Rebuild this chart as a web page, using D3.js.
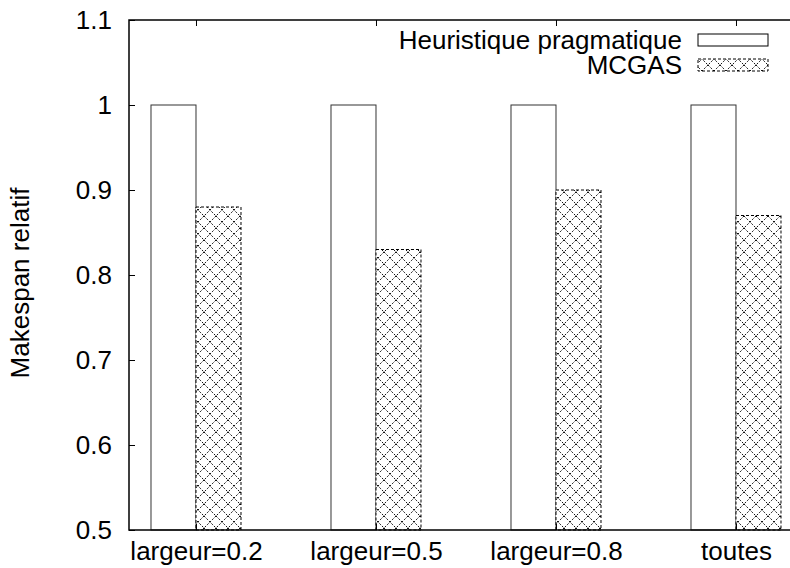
<!DOCTYPE html>
<meta charset="utf-8">
<style>
body { margin: 0; background: #fff; }
text { font-family: "Liberation Sans", Arial, Helvetica, sans-serif; fill: #000; }
.axis path { display: none; }
.axis line { stroke: #000; stroke-width: 1; }
.axis text { font-size: 26px; }
</style>
<body>
<script src="https://d3js.org/d3.v7.min.js"></script>
<script>
var w = 790, h = 568;

var categories = ["largeur=0.2", "largeur=0.5", "largeur=0.8", "toutes"];
var heuristique = [1, 1, 1, 1];
var mcgas = [0.88, 0.83, 0.90, 0.87];
var seriesNames = ["Heuristique pragmatique", "MCGAS"];
var yTicks = [0.5, 0.6, 0.7, 0.8, 0.9, 1, 1.1];

var pLeft = 129, pTop = 20, pBottom = 530;

var svg = d3.select("body").append("svg")
    .attr("width", w)
    .attr("height", h);

var defs = svg.append("defs");
var pat = defs.append("pattern")
    .attr("id", "cross")
    .attr("patternUnits", "userSpaceOnUse")
    .attr("width", 12).attr("height", 12);
pat.append("rect").attr("width", 12).attr("height", 12).attr("fill", "#fff");
pat.append("path")
    .attr("d", "M0,0L12,12M12,0L0,12")
    .attr("stroke", "#111")
    .attr("stroke-width", 1)
    .attr("stroke-dasharray", "2,1.5");

// x in category units, 180px per unit
var x = d3.scaleLinear().domain([-0.3722, 3.55]).range([pLeft, pLeft + 180 * 3.9222]);
var y = d3.scaleLinear().domain([0.5, 1.1]).range([pBottom, pTop]);
var bw = 0.25;

svg.append("g")
    .selectAll("rect")
    .data(heuristique)
    .enter().append("rect")
    .attr("x", function(d, i) { return x(i - bw); })
    .attr("y", function(d) { return y(d); })
    .attr("width", x(bw) - x(0))
    .attr("height", function(d) { return pBottom - y(d); })
    .attr("fill", "#fff")
    .attr("stroke", "#333")
    .attr("stroke-width", 1);

svg.append("g")
    .selectAll("rect")
    .data(mcgas)
    .enter().append("rect")
    .attr("x", function(d, i) { return x(i); })
    .attr("y", function(d) { return y(d); })
    .attr("width", x(bw) - x(0))
    .attr("height", function(d) { return pBottom - y(d); })
    .attr("fill", "url(#cross)")
    .attr("stroke", "#000")
    .attr("stroke-width", 1)
    .attr("stroke-dasharray", "3,2");

svg.append("g")
    .attr("class", "axis")
    .attr("transform", "translate(" + pLeft + ",0)")
    .call(d3.axisLeft(y).tickValues(yTicks).tickSize(-6).tickPadding(17)
        .tickFormat(function(d) { return d === 1 ? "1" : d3.format(".1f")(d); }));

svg.append("g")
    .attr("class", "axis")
    .attr("transform", "translate(0," + pBottom + ")")
    .call(d3.axisBottom(x).tickValues(d3.range(categories.length)).tickSize(-6).tickPadding(12)
        .tickFormat(function(d) { return categories[d]; }));

svg.append("g")
    .attr("class", "axis")
    .attr("transform", "translate(0," + pTop + ")")
    .call(d3.axisTop(x).tickValues(d3.range(categories.length)).tickSize(-6).tickFormat(""));

// frame
svg.append("rect")
    .attr("x", pLeft).attr("y", pTop)
    .attr("width", x.range()[1] - pLeft).attr("height", pBottom - pTop)
    .attr("fill", "none")
    .attr("stroke", "#000")
    .attr("stroke-width", 1.5);

svg.append("text")
    .attr("transform", "translate(29,283) rotate(-90)")
    .attr("text-anchor", "middle")
    .style("font-size", "26px")
    .text("Makespan relatif");

// legend
var legend = svg.append("g").selectAll("g")
    .data(seriesNames)
    .enter().append("g")
    .attr("transform", function(d, i) { return "translate(0," + (40 + i * 25) + ")"; });

legend.append("text")
    .attr("x", 682)
    .attr("dy", "0.35em")
    .attr("text-anchor", "end")
    .style("font-size", "26px")
    .text(function(d) { return d; });

legend.append("rect")
    .attr("x", 698).attr("y", -6)
    .attr("width", 70).attr("height", 12)
    .attr("fill", function(d, i) { return i === 0 ? "#fff" : "url(#cross)"; })
    .attr("stroke", "#000")
    .attr("stroke-width", 1)
    .attr("stroke-dasharray", function(d, i) { return i === 0 ? null : "3,2"; });
</script>
</body>
